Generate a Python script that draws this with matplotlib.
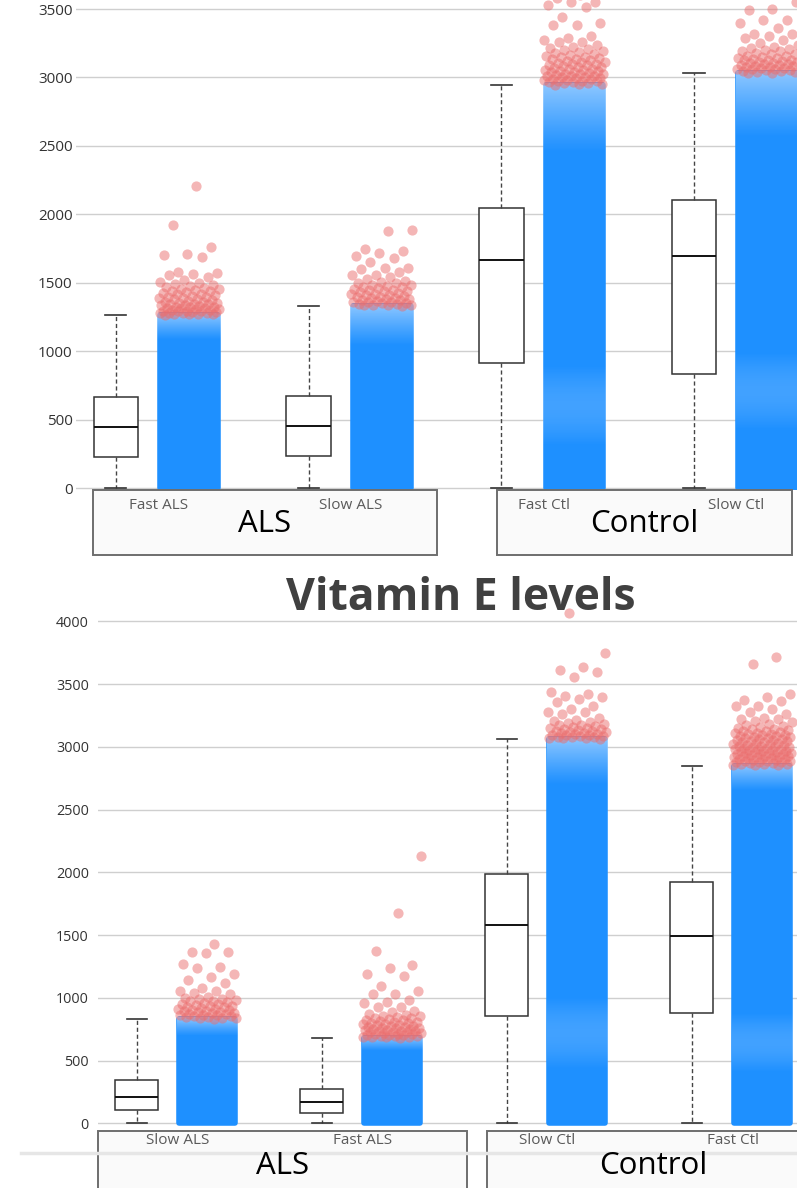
import numpy as np
import matplotlib.pyplot as plt
from matplotlib.patches import Rectangle
from matplotlib.lines import Line2D

plt.rcParams['font.family'] = ['Open Sans', 'DejaVu Sans']

# ---- upper panel ----
top_groups = ["Fast ALS", "Slow ALS", "Fast Ctl", "Slow Ctl"]
top_q1 = [226, 234, 913, 833]
top_med = [446, 453, 1666, 1695]
top_q3 = [668, 672, 2043, 2104]
top_whislo = [0, 0, 0, 0]
top_whishi = [1264, 1330, 2945, 3032]
top_dense = [1080, 1040, 2450, 2560]        # cloud gets thin above this
top_sparse = [None, None, (300, 900), (420, 1000)]  # thinner patch inside the cloud
top_out = [
    [2207, 1922, 1761, 1710, 1702, 1688, 1578, 1570, 1563, 1556, 1541, 1520, 1505,
     1498, 1490, 1482, 1476, 1470, 1462, 1455, 1452, 1447, 1440, 1436, 1433, 1425,
     1418, 1414, 1410, 1404, 1398, 1395, 1391, 1385, 1380, 1378, 1372, 1366, 1362,
     1360, 1354, 1350, 1348, 1344, 1342, 1338, 1337, 1331, 1326, 1325, 1321, 1318,
     1316, 1312, 1311, 1306, 1301, 1300, 1296, 1294, 1292, 1290, 1288, 1284, 1282,
     1280, 1278, 1276, 1274, 1272, 1270, 1268, 1266],
    [1885, 1878, 1746, 1732, 1717, 1695, 1680, 1651, 1607, 1607, 1600, 1578, 1556,
     1556, 1540, 1528, 1515, 1505, 1500, 1496, 1487, 1480, 1478, 1470, 1466, 1462,
     1455, 1450, 1447, 1440, 1436, 1432, 1425, 1421, 1418, 1411, 1408, 1405, 1398,
     1395, 1392, 1386, 1383, 1380, 1374, 1371, 1368, 1362, 1360, 1357, 1352, 1350,
     1347, 1342, 1340, 1338, 1336, 1334, 1332],
    [3700, 3640, 3600, 3580, 3551, 3551, 3529, 3514, 3441, 3398, 3383, 3383, 3303,
     3288, 3273, 3259, 3259, 3240, 3225, 3215, 3208, 3200, 3190, 3185, 3180, 3170,
     3165, 3160, 3152, 3148, 3144, 3136, 3132, 3128, 3120, 3116, 3112, 3105, 3101,
     3098, 3091, 3088, 3084, 3077, 3073, 3070, 3064, 3061, 3058, 3052, 3049, 3046,
     3040, 3037, 3034, 3028, 3025, 3022, 3017, 3014, 3012, 3007, 3004, 3002, 2997,
     2994, 2992, 2987, 2984, 2982, 2977, 2974, 2972, 2967, 2964, 2962, 2957, 2954,
     2952, 2948],
    [3700, 3620, 3551, 3500, 3493, 3420, 3420, 3398, 3361, 3317, 3317, 3300, 3288,
     3273, 3252, 3240, 3225, 3218, 3210, 3200, 3195, 3190, 3178, 3172, 3168, 3160,
     3156, 3152, 3145, 3141, 3138, 3131, 3128, 3124, 3118, 3115, 3112, 3106, 3103,
     3100, 3095, 3092, 3090, 3085, 3082, 3080, 3075, 3072, 3070, 3065, 3062, 3060,
     3055, 3052, 3050, 3045, 3042, 3040, 3036, 3034],
]

# ---- lower panel ----
bot_groups = ["Slow ALS", "Fast ALS", "Slow Ctl", "Fast Ctl"]
bot_q1 = [108, 84, 857, 880]
bot_med = [211, 171, 1582, 1494]
bot_q3 = [347, 275, 1988, 1924]
bot_whislo = [0, 0, 0, 0]
bot_whishi = [833, 681, 3064, 2849]
bot_dense = [700, 580, 2700, 2650]
bot_sparse = [None, None, (425, 1010), (400, 880)]
bot_out = [
    [1430, 1367, 1367, 1359, 1271, 1247, 1239, 1191, 1167, 1143, 1120, 1080, 1056,
     1056, 1040, 1032, 1010, 1002, 995, 988, 984, 976, 972, 968, 960, 956, 952, 944,
     940, 936, 929, 925, 922, 915, 911, 908, 901, 898, 895, 889, 886, 883, 877, 874,
     871, 866, 864, 861, 856, 853, 851, 846, 844, 842, 838, 836],
    [2131, 1677, 1375, 1261, 1237, 1190, 1175, 1096, 1056, 1032, 1032, 984, 968,
     960, 929, 929, 897, 889, 873, 866, 860, 854, 848, 842, 838, 832, 828, 822, 818,
     812, 808, 804, 800, 796, 792, 788, 784, 780, 776, 772, 768, 764, 761, 757, 754,
     750, 747, 743, 740, 737, 734, 731, 728, 725, 722, 719, 716, 713, 710, 707, 705,
     702, 700, 697, 695, 692, 690, 688, 686, 684],
    [4068, 3749, 3637, 3614, 3598, 3558, 3438, 3422, 3406, 3398, 3382, 3358, 3327,
     3303, 3279, 3279, 3263, 3231, 3215, 3207, 3199, 3192, 3185, 3178, 3172, 3166,
     3160, 3155, 3150, 3145, 3140, 3135, 3131, 3126, 3122, 3118, 3114, 3110, 3106,
     3102, 3099, 3095, 3092, 3088, 3085, 3082, 3079, 3076, 3073, 3070, 3068, 3066],
    [3717, 3661, 3422, 3398, 3374, 3367, 3327, 3327, 3300, 3280, 3260, 3231, 3223,
     3223, 3210, 3195, 3180, 3172, 3165, 3158, 3151, 3145, 3140, 3135, 3130, 3125,
     3120, 3115, 3110, 3104, 3100, 3096, 3092, 3088, 3084, 3080, 3076, 3072, 3068,
     3064, 3060, 3056, 3052, 3048, 3044, 3040, 3036, 3032, 3028, 3025, 3021, 3018,
     3014, 3011, 3007, 3004, 3000, 2997, 2993, 2990, 2986, 2983, 2980, 2976, 2973,
     2970, 2967, 2964, 2961, 2958, 2955, 2952, 2949, 2946, 2943, 2940, 2937, 2934,
     2931, 2928, 2925, 2922, 2919, 2916, 2913, 2910, 2907, 2904, 2901, 2898, 2895,
     2892, 2889, 2886, 2883, 2880, 2877, 2874, 2871, 2868, 2865, 2862, 2859, 2856,
     2853],
]

BLUE = '#1E90FF'
RED = '#EB6E6E'
BOX_OFF, STRIP_OFF = -0.19, 0.19
BOX_W, STRIP_W = 0.232, 0.30
HALO = 0.029          # extra width from the rounded bar outline


def white_veil(ax, x, lo, hi, profile):
    # translucent white overlay that thins out the blue cloud
    rgba = np.ones((len(profile), 1, 4))
    rgba[:, 0, 3] = profile
    w = STRIP_W + HALO
    ax.imshow(rgba, extent=[x - w / 2, x + w / 2, lo, hi], origin='lower',
              aspect='auto', interpolation='bilinear', zorder=2.5)


def draw_panel(ax, groups, q1, med, q3, wlo, whi, dense, sparse, outs, tick_size, pad):
    pos = np.arange(len(groups))
    stats = [dict(med=m, q1=a, q3=b, whislo=lo, whishi=hi, fliers=[])
             for m, a, b, lo, hi in zip(med, q1, q3, wlo, whi)]
    ax.bxp(stats, positions=pos + BOX_OFF, widths=BOX_W, capwidths=0.11,
           showfliers=False, patch_artist=True, manage_ticks=False,
           boxprops=dict(facecolor='white', edgecolor='#333333', linewidth=1.1),
           medianprops=dict(color='#111111', linewidth=1.4),
           whiskerprops=dict(color='#444444', linewidth=1.0, linestyle=(0, (3, 2))),
           capprops=dict(color='#333333', linewidth=1.2), zorder=3)

    fade = 0.5 * np.linspace(0, 1, 60) ** 1.1
    for i in range(len(groups)):
        x = pos[i] + STRIP_OFF
        ax.bar(x, whi[i] - wlo[i], bottom=wlo[i], width=STRIP_W, color=BLUE,
               edgecolor=BLUE, linewidth=4, joinstyle='round', zorder=2)
        white_veil(ax, x, dense[i], whi[i] + 12, fade)
        if sparse[i] is not None:
            lo, hi = sparse[i]
            white_veil(ax, x, lo, hi, 0.16 * np.sin(np.linspace(0, np.pi, 30)))
        vals = np.array(outs[i])
        jit = ((np.arange(len(vals)) + 1) * 0.6180339887 + 0.37 * i) % 1 - 0.5
        ax.scatter(x + jit * (STRIP_W + 0.02), vals, s=54, color=RED, alpha=0.5,
                   linewidths=0, zorder=4)

    ax.set_yticks(np.arange(0, 4001, 500))
    ax.grid(axis='y', color='#cfcfcf', linewidth=1.0, zorder=0)
    ax.set_axisbelow(True)
    ax.set_xticks([])
    for s in ax.spines.values():
        s.set_visible(False)
    ax.tick_params(axis='y', length=0, labelsize=tick_size, labelcolor='#333333', pad=pad)


fig = plt.figure(figsize=(7.97, 11.88), dpi=100)

ax1 = fig.add_axes([76 / 797, (1188 - 490) / 1188, 731.7 / 797, 490 / 1188])
draw_panel(ax1, top_groups, top_q1, top_med, top_q3, top_whislo, top_whishi,
           top_dense, top_sparse, top_out, 11, 2.5)
ax1.set_xlim(-0.397, 3.4)
ax1.set_ylim(-14.6, 3566)

ax2 = fig.add_axes([97.7 / 797, (1188 - 1131) / 1188, 703.3 / 797, 526 / 1188])
draw_panel(ax2, bot_groups, bot_q1, bot_med, bot_q3, bot_whislo, bot_whishi,
           bot_dense, bot_sparse, bot_out, 10.4, 6.3)
ax2.set_xlim(-0.402, 3.4)
ax2.set_ylim(-59.8, 4131)


def group_boxes(ax, names, spans, box_h, lab_y, big_y, labels):
    tr = ax.get_xaxis_transform()
    for (x0, x1), name in zip(spans, names):
        ax.add_patch(Rectangle((x0, -box_h), x1 - x0, box_h, transform=tr,
                               facecolor='#fafafa', edgecolor='#6e6e6e',
                               linewidth=1.4, clip_on=False, zorder=5))
        ax.text((x0 + x1) / 2, big_y, name, transform=tr, ha='center', va='center',
                fontsize=22.5, color='black', zorder=7, clip_on=False)
    for i, lab in enumerate(labels):
        ax.text(i + 0.03, lab_y, lab, transform=tr, ha='center', va='center',
                fontsize=11, color='#5a5a5a', zorder=7, clip_on=False)


group_boxes(ax1, ["ALS", "Control"], [(-0.309, 1.476), (1.788, 3.319)],
            0.133, -0.031, -0.069, top_groups)
group_boxes(ax2, ["ALS", "Control"], [(-0.4, 1.595), (1.703, 3.5)],
            0.14, -0.019, -0.066, bot_groups)

# thin grey rule across the lower legend boxes, under the group names
ax2.add_line(Line2D([21 / 797, 1], [1 - 1153 / 1188] * 2, transform=fig.transFigure,
                    color='#e6e6e6', linewidth=2.5, zorder=6, clip_on=False))

fig.text(461 / 797, 1 - 598 / 1188, "Vitamin E levels", ha='center', va='center',
         fontsize=32, fontweight='bold', color='#404040', zorder=10)

fig.savefig('out.png', dpi=100)
